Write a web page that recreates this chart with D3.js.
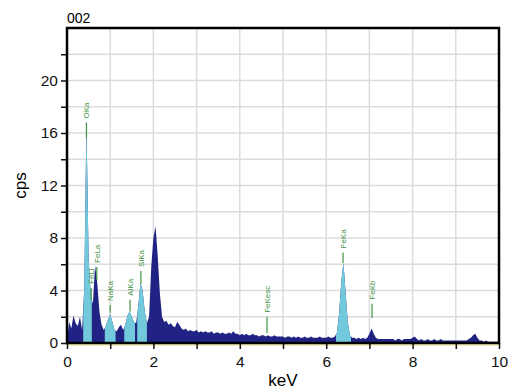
<!DOCTYPE html>
<html>
<head>
<meta charset="utf-8">
<script src="https://cdn.jsdelivr.net/npm/d3@7"></script>
<style>
  body { margin: 0; background: #fff; }
  text { font-family: "Liberation Sans", Arial, sans-serif; }
</style>
</head>
<body>
<div id="chart"></div>
<script>
/* EDS spectrum 002 */

const step = 0.05; // keV per channel, first channel at 0 keV

// counts per second, one row per keV
const cps = [
  0.2, 1.6, 1.1, 2.1, 1.5, 1.3, 2.0, 1.0, 4.2, 16.9, 6.5, 3.6, 3.0, 5.9, 4.6, 2.4, 1.4, 1.0, 1.3, 1.8,
  2.2, 1.6, 1.0, 0.9, 1.2, 1.4, 1.0, 1.4, 2.1, 2.4, 2.0, 1.6, 1.5, 2.8, 4.6, 4.0, 2.4, 1.5, 2.0, 5.8,
  8.0, 8.9, 6.6, 3.8, 2.0, 1.6, 1.7, 1.4, 1.5, 1.3, 1.2, 1.6, 1.4, 1.1, 1.0, 1.1, 0.9, 1.0, 0.9, 0.9,
  1.0, 0.8, 0.9, 0.8, 0.9, 0.8, 0.8, 0.9, 0.7, 0.8, 0.8, 0.7, 0.8, 0.7, 0.7, 0.8, 0.7, 0.9, 0.7, 0.7,
  0.6, 0.7, 0.6, 0.7, 0.6, 0.6, 0.7, 0.6, 0.6, 0.5, 0.6, 0.6, 0.5, 0.6, 0.5, 0.5, 0.6, 0.5, 0.5, 0.5,
  0.5, 0.4, 0.5, 0.5, 0.4, 0.5, 0.4, 0.5, 0.4, 0.4, 0.5, 0.4, 0.4, 0.5, 0.4, 0.4, 0.4, 0.5, 0.4, 0.4,
  0.4, 0.5, 0.4, 0.4, 0.5, 0.8, 2.3, 4.7, 6.1, 3.8, 1.6, 0.6, 0.4, 0.4, 0.3, 0.4, 0.3, 0.4, 0.3, 0.4,
  0.7, 1.1, 0.7, 0.4, 0.3, 0.3, 0.3, 0.3, 0.3, 0.3, 0.3, 0.3, 0.2, 0.3, 0.3, 0.2, 0.3, 0.3, 0.3, 0.3,
  0.4, 0.5, 0.3, 0.2, 0.3, 0.2, 0.2, 0.3, 0.2, 0.2, 0.3, 0.2, 0.2, 0.3, 0.2, 0.2, 0.2, 0.2, 0.2, 0.2,
  0.2, 0.2, 0.2, 0.2, 0.2, 0.2, 0.3, 0.4, 0.6, 0.7, 0.4, 0.2, 0.2, 0.1, 0.2, 0.1, 0.1, 0.1, 0.1, 0.1,
  0.1
];

// energy windows of the identified lines (shown in light blue)
const windowStart = [0.375, 0.875, 1.325, 1.625, 6.225];
const windowEnd   = [0.575, 1.125, 1.575, 1.85, 6.575];

// line markers: energy, name, cps where the name starts, cps where the marker ends
const lineKeV   = [0.45, 0.56, 0.69, 1.0, 1.46, 1.71, 4.63, 6.39, 7.06];
const lineName  = ["OKa", "FeLl", "FeLa", "NaKa", "AlKa", "SiKa", "FeKesc", "FeKa", "FeKb"];
const lineTop   = [17.1, 4.5, 6.1, 3.2, 3.6, 5.8, 2.3, 7.2, 3.3];
const lineBase  = [15.6, 3.3, 4.8, 2.3, 2.4, 4.5, 0.75, 6.1, 1.9];

const height = 389,
      width = 517,
      margin = ({ top: 28, right: 18, bottom: 46, left: 67 });

const data = cps.map((v, i) => ({ e: i * step, v: v }));

let svg = d3.select("#chart")
    .append("svg")
    .attr("width", width)
    .attr("height", height);

let x = d3.scaleLinear()
    .domain([0, 10])
    .range([margin.left, width - margin.right]);

let y = d3.scaleLinear()
    .domain([0, 24])
    .range([height - margin.bottom, margin.top]);

// grid
svg.append("g")
    .selectAll("line.vg")
    .data(d3.range(1, 10))
    .join("line")
    .attr("x1", d => x(d)).attr("x2", d => x(d))
    .attr("y1", y(0)).attr("y2", y(24))
    .attr("stroke", "#dcdcdc")
    .attr("stroke-width", 1.5);

svg.append("g")
    .selectAll("line.hg")
    .data(d3.range(2, 24, 2))
    .join("line")
    .attr("x1", x(0)).attr("x2", x(10))
    .attr("y1", d => y(d)).attr("y2", d => y(d))
    .attr("stroke", "#dcdcdc")
    .attr("stroke-width", 1.5);

// spectrum
let area = d3.area()
    .x(d => x(d.e))
    .y0(y(0))
    .y1(d => y(d.v));

svg.append("path")
    .datum(data)
    .attr("fill", "#202383")
    .attr("d", area);

let defs = svg.append("defs");
windowStart.forEach((a, i) => {
    defs.append("clipPath")
        .attr("id", "win" + i)
        .append("rect")
        .attr("x", x(a))
        .attr("width", x(windowEnd[i]) - x(a))
        .attr("y", y(24))
        .attr("height", y(0) - y(24));
    svg.append("path")
        .datum(data)
        .attr("fill", "#72c9dc")
        .attr("clip-path", `url(#win${i})`)
        .attr("d", area);
});

// line markers
let mark = svg.append("g")
    .selectAll("g")
    .data(lineKeV.map((e, i) => ({ e: e, name: lineName[i], top: lineTop[i], base: lineBase[i] })))
    .join("g");

mark.append("line")
    .attr("x1", d => x(d.e)).attr("x2", d => x(d.e))
    .attr("y1", d => y(d.top) + 4)
    .attr("y2", d => y(d.base))
    .attr("stroke", "#3f9444")
    .attr("stroke-width", 1.2);

mark.append("text")
    .attr("transform", d => `translate(${x(d.e) + 2.8},${y(d.top)}) rotate(-90)`)
    .attr("font-size", "8px")
    .attr("fill", "#3f9444")
    .text(d => d.name);

// faint yellow line under the axis
svg.append("line")
    .attr("x1", x(0)).attr("x2", x(10))
    .attr("y1", y(0) + 2).attr("y2", y(0) + 2)
    .attr("stroke", "#e9e27a")
    .attr("stroke-width", 1);

// axes
let xAxis = svg.append("g")
    .attr("transform", `translate(0,${y(0)})`)
    .call(d3.axisBottom(x).tickValues(d3.range(0, 11)).tickSize(6)
        .tickFormat(d => d % 2 === 0 ? d : ""));

let yAxis = svg.append("g")
    .attr("transform", `translate(${x(0)},0)`)
    .call(d3.axisLeft(y).tickValues(d3.range(0, 24, 2)).tickSize(6)
        .tickFormat(d => d % 4 === 0 ? d : ""));

[xAxis, yAxis].forEach(a => {
    a.select(".domain").remove();
    a.selectAll(".tick line").attr("stroke", "#111").attr("stroke-width", 1.5);
    a.selectAll(".tick text").attr("fill", "#111").style("font-size", "15.5px");
});
xAxis.selectAll(".tick text").attr("dy", "0.95em");

// frame
svg.append("rect")
    .attr("x", x(0)).attr("y", y(24))
    .attr("width", x(10) - x(0))
    .attr("height", y(0) - y(24))
    .attr("fill", "none")
    .attr("stroke", "#000")
    .attr("stroke-width", 2.5);

// titles
svg.append("text")
    .attr("x", x(0)).attr("y", 23)
    .style("font-size", "14px")
    .text("002");

svg.append("text")
    .attr("x", (x(0) + x(10)) / 2)
    .attr("y", 386)
    .attr("text-anchor", "middle")
    .style("font-size", "17px")
    .text("keV");

svg.append("text")
    .attr("transform", `translate(26,${(y(0) + y(24)) / 2}) rotate(-90)`)
    .attr("text-anchor", "middle")
    .style("font-size", "17px")
    .text("cps");
</script>
</body>
</html>
